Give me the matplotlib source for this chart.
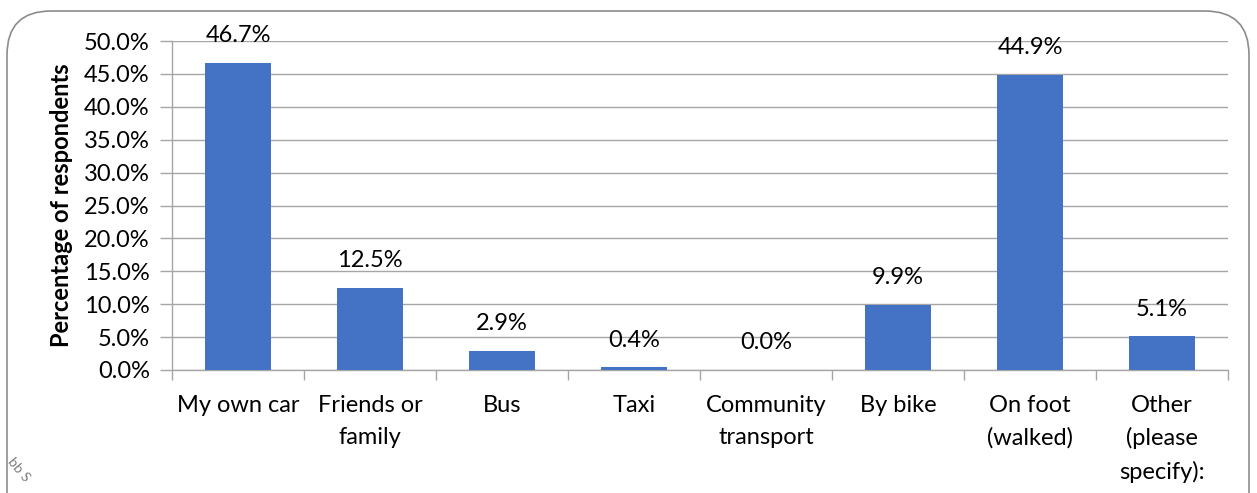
import matplotlib
matplotlib.use("Agg")
import matplotlib.pyplot as plt
from matplotlib.patches import FancyBboxPatch
from matplotlib.ticker import MultipleLocator, FuncFormatter

categories = ["My own car", "Friends or\nfamily", "Bus", "Taxi", "Community\ntransport",
              "By bike", "On foot\n(walked)", "Other\n(please\nspecify):"]
percentages = [46.7, 12.5, 2.9, 0.4, 0.0, 9.9, 44.9, 5.1]

bar_color = "#4472C4"
grid_color = "#A6A6A6"

plt.rcParams["font.family"] = ["Lato", "DejaVu Sans"]

fig = plt.figure(figsize=(12.57, 4.93), dpi=100)
fig.patch.set_facecolor("white")

# rounded chart frame, runs off the bottom of the picture
frame = FancyBboxPatch((7 / 1257, -0.2), 1249 / 1257 - 7 / 1257, 1.2 - 11 / 493,
                       boxstyle="round,pad=0,rounding_size=0.035",
                       transform=fig.transFigure, facecolor="none",
                       edgecolor="#8C8C8C", linewidth=1.2,
                       mutation_aspect=1257 / 493, zorder=-5)
fig.patches.append(frame)

ax = fig.add_axes([172 / 1257, 1 - 370 / 493, 1056 / 1257, 329 / 493])
ax.set_facecolor("none")

x = range(len(categories))
bars = ax.bar(x, percentages, width=0.5, color=bar_color, zorder=3)

for xi, val in zip(x, percentages):
    ax.annotate(f"{val:.1f}%", (xi, val), xytext=(0, 12), textcoords="offset points",
                ha="center", va="bottom", fontsize=17, color="black")

ax.set_xlim(-0.5, len(categories) - 0.5)
ax.set_ylim(0, 50)
ax.yaxis.set_major_locator(MultipleLocator(5))
ax.yaxis.set_major_formatter(FuncFormatter(lambda v, p: f"{v:.1f}%"))
ax.grid(axis="y", color=grid_color, linewidth=1, zorder=0)
ax.set_axisbelow(True)

ax.set_xticks(x)
ax.set_xticklabels(categories, fontsize=17, linespacing=1.62, va="top")
ax.set_xticks([i - 0.5 for i in range(len(categories) + 1)], minor=True)
ax.tick_params(axis="x", which="major", length=0, pad=18)
ax.tick_params(axis="x", which="minor", length=7, color=grid_color, width=1)
ax.tick_params(axis="y", length=9, color=grid_color, width=1, labelsize=17, pad=7)

for side in ["top", "right"]:
    ax.spines[side].set_visible(False)
for side in ["left", "bottom"]:
    ax.spines[side].set_color(grid_color)
    ax.spines[side].set_linewidth(1)

ax.set_ylabel("Percentage of respondents", fontsize=17, fontweight="bold", labelpad=8)

fig.text(0.004, 0.075, "bb S", rotation=-50, fontsize=10, color="#7F7F7F",
         ha="left", va="top")

fig.savefig("out.png", dpi=100)
